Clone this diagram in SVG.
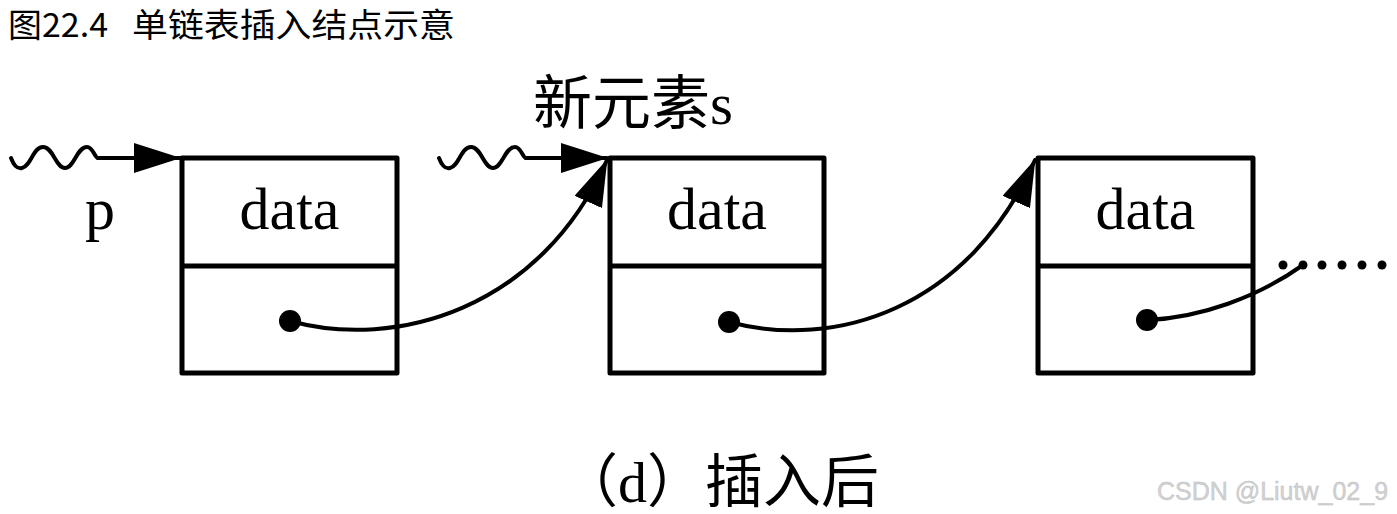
<svg xmlns="http://www.w3.org/2000/svg" width="1397" height="514" viewBox="0 0 1397 514">
  <defs>
    <style>
      .box { fill: #fff; stroke: #000; stroke-width: 5; stroke-linejoin: round; }
      .div { stroke: #000; stroke-width: 5; }
      .lbl { font-family: "Liberation Serif", "Noto Sans CJK SC", serif; font-size: 60px; fill: #000; }
      .cjk { font-family: "Liberation Serif", "Noto Sans CJK SC", serif; fill: #000; }
      .title { font-family: "Noto Sans CJK SC", "Noto Sans", sans-serif; font-size: 33px; fill: #000; }
      .wire { fill: none; stroke: #000; stroke-width: 4; stroke-linecap: round; }
      .wave { fill: none; stroke: #000; stroke-width: 4; stroke-linecap: round; stroke-linejoin: round; }
    </style>
    <marker id="ah" viewBox="0 0 47 30" refX="46" refY="15" markerWidth="47" markerHeight="30" markerUnits="userSpaceOnUse" orient="auto">
      <path d="M0,0 L47,15 L0,30 Z" fill="#000"/>
    </marker>
  </defs>

  <rect width="1397" height="514" fill="#fff"/>

  <text class="title" x="8" y="37" textLength="100" lengthAdjust="spacingAndGlyphs">图22.4</text>
  <text class="title" x="132" y="37" textLength="323" lengthAdjust="spacingAndGlyphs">单链表插入结点示意</text>

  <g id="node1">
    <rect class="box" x="182" y="158" width="215" height="215"/>
    <line class="div" x1="182" y1="266" x2="397" y2="266"/>
    <text class="lbl" x="289.5" y="229" text-anchor="middle">data</text>
    <circle cx="290" cy="321" r="11" fill="#000"/>
  </g>

  <g id="node2">
    <rect class="box" x="610" y="158" width="214" height="215"/>
    <line class="div" x1="610" y1="266" x2="824" y2="266"/>
    <text class="lbl" x="717" y="229" text-anchor="middle">data</text>
    <circle cx="729" cy="322" r="11" fill="#000"/>
  </g>

  <g id="node3">
    <rect class="box" x="1038" y="158" width="215" height="215"/>
    <line class="div" x1="1038" y1="266" x2="1253" y2="266"/>
    <text class="lbl" x="1145.5" y="229" text-anchor="middle">data</text>
    <circle cx="1147" cy="320" r="11" fill="#000"/>
  </g>

  <g id="label-p">
    <text class="lbl" x="100" y="229" text-anchor="middle">p</text>
  </g>

  <g id="label-s">
    <text class="cjk" x="533" y="124" font-size="59">新元素s</text>
  </g>

  <g id="ellipsis">
    <circle cx="1283" cy="265" r="4.5" fill="#000"/>
    <circle cx="1303" cy="265" r="4.5" fill="#000"/>
    <circle cx="1322" cy="265" r="4.5" fill="#000"/>
    <circle cx="1342" cy="265" r="4.5" fill="#000"/>
    <circle cx="1362" cy="265" r="4.5" fill="#000"/>
    <circle cx="1382" cy="265" r="4.5" fill="#000"/>
  </g>

  <g id="connectors">
    <path class="wave" d="M11,158 C14,166 17,169 22,168 C31,166 33,147 43,147 C53,147 56,168 65,168 C74,168 77,147 87,147 C93,147 95,158 98,158"/>
    <path class="wire" d="M98,158 L180,158" marker-end="url(#ah)"/>
    <path class="wave" d="M439,158 C442,166 445,169 450,168 C459,166 461,147 471,147 C481,147 484,168 493,168 C502,168 505,147 515,147 C521,147 523,158 526,158"/>
    <path class="wire" d="M526,158 L607,158" marker-end="url(#ah)"/>
    <path class="wire" d="M290,321 C395,350 540,310 607,160" marker-end="url(#ah)"/>
    <path class="wire" d="M729,322 C834,350 968,310 1035,160" marker-end="url(#ah)"/>
    <path class="wire" d="M1147,320 C1200,318 1258,297 1303,265"/>
  </g>

  <text class="cjk" x="560" y="502" font-size="58">（d）插入后</text>

  <text x="1157" y="500" font-family="'Liberation Sans', Arial, sans-serif" font-size="25" fill="#d2d2d2" stroke="#bdbdbd" stroke-width="0.4">CSDN @Liutw_02_9</text>
</svg>
